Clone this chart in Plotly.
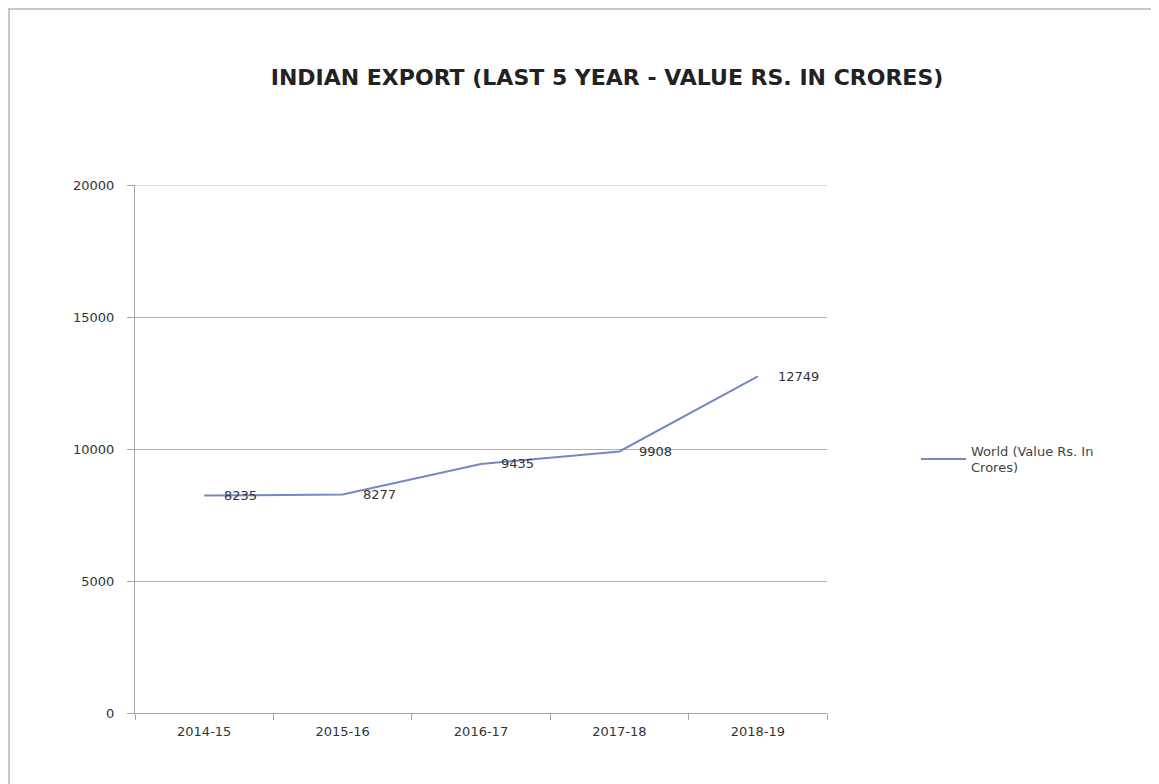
import plotly.graph_objects as go

categories = ["2014-15", "2015-16", "2016-17", "2017-18", "2018-19"]
values = [8235, 8277, 9435, 9908, 12749]
series_name = "World (Value Rs. In<br>Crores)"
title = "INDIAN EXPORT (LAST 5 YEAR - VALUE RS. IN CRORES)"
ytick_vals = [0, 5000, 10000, 15000, 20000]

OFF = 8  # page body offset
W, H = 1159 - OFF, 784 - OFF
L, R, T, B = 135 - OFF, 332, 185 - OFF, 71
pw, ph = W - L - R, H - T - B

def px_x(x):
    return (x - OFF - L) / pw

def px_y(y):
    return (H - B - (y - OFF)) / ph

FONT = "DejaVu Sans"

fig = go.Figure()
fig.add_trace(go.Scatter(
    x=categories, y=values, mode="lines", name=series_name,
    line=dict(color="#7489c2", width=2),
))

for c, v in zip(categories, values):
    fig.add_annotation(x=c, y=v, text=str(v), showarrow=False, xanchor="left",
                       yanchor="middle", xshift=18,
                       font=dict(size=13, color="#333333", family=FONT))

fig.update_layout(
    width=W, height=H,
    margin=dict(l=L, r=R, t=T, b=B),
    paper_bgcolor="white", plot_bgcolor="white",
    font=dict(family=FONT, color="#333333"),
    title=dict(text="<b>" + title + "</b>", x=px_x(607), xref="paper", xanchor="center",
               y=1 - (77 - OFF) / H, yanchor="middle",
               font=dict(size=22, color="#222222", family=FONT)),
    showlegend=True,
    legend=dict(x=px_x(916), y=px_y(459), xanchor="left", yanchor="middle",
                itemwidth=45,
                font=dict(size=13, color="#444444", family=FONT), bgcolor="rgba(0,0,0,0)"),
    xaxis=dict(type="category", range=[-0.5, 4.5], showline=True, linecolor="#a6a6a6",
               linewidth=1, ticks="outside", tickson="boundaries", ticklen=6,
               tickcolor="#a6a6a6", showgrid=False, ticklabelstandoff=6,
               tickfont=dict(size=13, color="#333333", family=FONT)),
    yaxis=dict(range=[0, 20000], tickvals=ytick_vals, ticktext=[str(v) for v in ytick_vals],
               showline=True, linecolor="#a6a6a6",
               linewidth=1, ticks="outside", ticklen=7, tickcolor="#a6a6a6",
               ticklabelstandoff=10,
               showgrid=True, gridcolor="#b3b3b3", gridwidth=1, zeroline=False,
               tickfont=dict(size=13, color="#333333", family=FONT)),
    shapes=[dict(type="line", xref="paper", yref="paper",
                 x0=px_x(9), x1=px_x(9), y0=px_y(790), y1=px_y(8),
                 line=dict(color="#c8c8c8", width=2), layer="below"),
            dict(type="line", xref="paper", yref="paper",
                 x0=px_x(8), x1=px_x(1160), y0=px_y(9), y1=px_y(9),
                 line=dict(color="#c8c8c8", width=2), layer="below"),
            dict(type="line", xref="paper", yref="y", x0=0, x1=1, y0=20000, y1=20000,
                 line=dict(color="#b3b3b3", width=1), layer="above")],
)

fig.write_html("out.html")
